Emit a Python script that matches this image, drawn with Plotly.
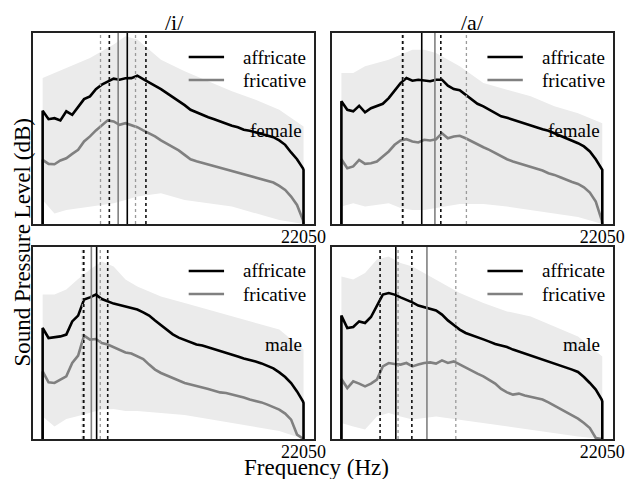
import plotly.graph_objects as go

# ---------------- data ----------------
freq_hz = [0, 0, 500, 1000, 1500, 2000, 2500, 3000, 3500, 4000, 4500, 5000, 5500, 6000,
           6500, 7000, 7500, 8000, 8500, 9000, 9500, 10000, 10500, 11000, 11500, 12000,
           12500, 13000, 13500, 14000, 14500, 15000, 15500, 16000, 16500, 17000, 17500,
           18000, 18500, 19000, 19500, 20000, 20500, 21000, 21500, 22000, 22050, 22050]

i_female_affricate = [0, 56.5, 52.3, 52.8, 51.7, 56.2, 54.5, 58.7, 62.3, 63.7, 67.3, 69.5, 71.2, 72.5,
                      72, 72.7, 72.8, 74, 72.3, 70.7, 69, 67.3, 65.3, 63.3, 61.7, 59.3, 57, 55.7,
                      54.3, 53.3, 52.3, 51.2, 50.3, 49, 48.3, 47, 46.5, 45.7, 44.8, 44, 43.3, 41.7,
                      39.5, 35.7, 32.3, 27.8, 27, 0]
i_female_fricative = [0, 32, 30, 29.8, 31.7, 32.8, 35, 37, 41.2, 43.7, 46.7, 49, 51.7, 51.2, 49.5,
                      50.3, 49.3, 48.3, 46.7, 45.3, 43.7, 41.7, 40, 38.3, 36.7, 34.5, 32.3, 31.3,
                      30.5, 29.5, 28.7, 27.8, 27, 26.2, 25.7, 24.7, 24, 23.2, 22.3, 21.7, 20.7, 19,
                      17, 13.7, 9.5, 2, 0, 0]
a_female_affricate = [0, 61.2, 57, 56.2, 59, 55.7, 57.8, 59, 60, 62.8, 66.7, 70.3, 72.8, 71.5, 72,
                      71.7, 71.2, 72, 72, 69, 67.3, 66.7, 64.5, 62.3, 60, 58.7, 57, 55, 53.7, 53,
                      52, 51, 50, 49, 48.2, 47.3, 46.5, 45.3, 44, 43, 41.7, 40.3, 38.7, 36.2, 32.3,
                      27.8, 27, 0]
a_female_fricative = [0, 32.3, 27.8, 28.7, 32, 30, 30.3, 31.2, 33.7, 36.2, 39.5, 41.7, 42.3, 41.2,
                      40.7, 42, 41.7, 42.3, 45.3, 42.8, 43.7, 44, 42.8, 41.2, 40, 38.3, 37, 35.3,
                      34, 32.3, 31.2, 30.3, 29.3, 28.3, 27.3, 26.7, 25.3, 24.5, 23.3, 22, 21, 20,
                      18.3, 15.7, 11.2, 2, 0, 0]
i_male_affricate = [0, 55.5, 50.5, 51, 51.3, 52.2, 58.8, 61.7, 69.7, 70.8, 72.2, 70, 68.8, 67.7, 67,
                    66.3, 65.3, 64.7, 63.3, 61.7, 59.2, 56.8, 54.7, 52.3, 50.7, 49.5, 48.3, 47.3,
                    46.7, 45.8, 45, 44.3, 43.3, 42.3, 41.3, 40.3, 39.7, 38.8, 37.8, 36.7, 35.3, 33.3,
                    31, 28, 23.8, 18.8, 18, 0]
i_male_fricative = [0, 33.8, 28.3, 28, 29.7, 31.3, 38, 41.7, 51.7, 49.7, 50, 48, 47.2, 45.8, 44.3,
                    43.3, 42.7, 41.3, 40, 37.2, 34.7, 33, 31.7, 30.3, 29.3, 28, 27.2, 26.3, 25.7, 25,
                    24, 23.3, 23, 22.3, 21.3, 20.7, 19.7, 19, 18.3, 17.2, 16, 14.7, 12.7, 9.7, 2.2,
                    0, 0, 0]
a_male_affricate = [0, 61.7, 55.5, 56, 58.8, 58, 61, 66.7, 72.2, 73, 72.2, 70.8, 69.7, 68.3, 66.7,
                    66, 65.3, 64.3, 62.2, 59.3, 57, 54.7, 53, 51.8, 50.7, 49.8, 48.7, 47.5, 46.8, 46,
                    44.7, 43.7, 42.8, 41.7, 40.7, 40, 38.8, 38, 37, 35.8, 34.7, 33.5, 31, 28, 24.7,
                    19.7, 18.8, 0]
a_male_fricative = [0, 30, 25.5, 28.8, 27.7, 26.3, 27.7, 29.7, 36.3, 38, 37.5, 37.2, 38, 36.3, 37.2,
                    38, 38.3, 37.7, 39.3, 38, 38.8, 37.2, 35.5, 34.2, 32.7, 31.3, 29.7, 27.7, 25,
                    23.3, 22.2, 22.7, 21.7, 21, 20.5, 19.7, 18.3, 16.7, 15, 13.3, 11.8, 10.2, 8,
                    5.5, 0.5, 0, 0, 0]

# envelope of the individual (light grey) spectra
band_freq_hz = [0, 1000, 2000, 3000, 4000, 5000, 6000, 7000, 8000, 10000, 12000, 14000, 16000,
                18000, 20000, 22050]
i_female_upper = [72.8, 75.3, 77.8, 80.3, 82.8, 86.2, 89.5, 93.7, 92, 82, 76.2, 71.2, 66.2, 62, 57, 48.7]
i_female_lower = [12, 5.3, 7, 8, 8.7, 9.5, 10.3, 12, 13.7, 15.3, 12, 10.3, 8.7, 5.3, 2, 0]
a_female_upper = [75.3, 75.3, 78.7, 80.5, 82, 84.5, 87, 87, 85.3, 78.7, 70.3, 67, 63.7, 58.7, 55.3, 50.3]
a_female_lower = [8.7, 10.3, 8.7, 9.5, 10.3, 8, 7, 7, 8, 10, 10, 8.7, 7, 5.3, 3.5, 0]
i_male_upper = [72.2, 72.2, 74.7, 80, 84.7, 88.8, 86.3, 79.7, 76.3, 71.2, 68, 64.7, 61.3, 58, 54.7, 44.7]
i_male_lower = [11.3, 6.3, 10, 11.5, 13, 14.7, 15, 14, 14, 13, 12, 10, 8, 6, 4, 0]
a_male_upper = [81.3, 79.7, 83, 89.7, 91.3, 88, 86.3, 83, 79.7, 73, 68, 63.8, 61.3, 56.3, 51.3, 41.3]
a_male_lower = [8, 6.3, 4.7, 11.3, 13, 11.3, 9.7, 10.5, 11.3, 9.7, 8, 6.3, 4.7, 3, 1.3, 0]

# spectral means (solid) and mean +/- sd (dotted), Hz; order: i-female, a-female, i-male, a-male
affricate_mean_hz = [7154, 6791, 4563, 4600]
affricate_low_hz = [5637, 5171, 3480, 3270]
affricate_high_hz = [8729, 8404, 5500, 5955]
fricative_mean_hz = [6383, 7904, 4117, 7230]
fricative_low_hz = [4891, 5241, 3365, 4790]
fricative_high_hz = [7850, 10567, 4870, 9670]

vowel_titles = ["/i/", "/a/"]
speaker_labels = ["female", "female", "male", "male"]
series_names = ["affricate", "fricative"]
x_tick_label = "22050"

# ---------------- figure ----------------
W, H = 637, 479
FONT = "Liberation Serif"
BLACK = "#000000"
GREY = "#808080"
BAND = "#ebebeb"

panels = [
    dict(aff=i_female_affricate, fri=i_female_fricative, up=i_female_upper, lo=i_female_lower),
    dict(aff=a_female_affricate, fri=a_female_fricative, up=a_female_upper, lo=a_female_lower),
    dict(aff=i_male_affricate, fri=i_male_fricative, up=i_male_upper, lo=i_male_lower),
    dict(aff=a_male_affricate, fri=a_male_fricative, up=a_male_upper, lo=a_male_lower),
]

x_domains = [[34 / W, 320 / W], [338 / W, 624 / W], [34 / W, 320 / W], [338 / W, 624 / W]]
y_domains = [[(H - 224) / H, (H - 33) / H], [(H - 224) / H, (H - 33) / H],
             [(H - 439) / H, (H - 247) / H], [(H - 439) / H, (H - 247) / H]]
y_tops = [95.3, 95.3, 96, 96]

fig = go.Figure()
layout = dict(
    width=W, height=H, margin=dict(l=0, r=0, t=0, b=0),
    paper_bgcolor="white", plot_bgcolor="white",
    font=dict(family=FONT, color="black"),
    showlegend=False,
)
shapes = []
annotations = []

for k, p in enumerate(panels):
    sfx = "" if k == 0 else str(k + 1)
    xa, ya = "x" + sfx, "y" + sfx
    # band of individual spectra
    fig.add_trace(go.Scatter(
        x=band_freq_hz + band_freq_hz[::-1], y=p["up"] + p["lo"][::-1],
        fill="toself", fillcolor=BAND, line=dict(width=0), mode="lines",
        hoverinfo="skip", showlegend=False, xaxis=xa, yaxis=ya))
    # fricative mean spectrum
    fig.add_trace(go.Scatter(
        x=freq_hz, y=p["fri"], mode="lines", name=series_names[1],
        line=dict(color=GREY, width=2.6), xaxis=xa, yaxis=ya))
    # affricate mean spectrum
    fig.add_trace(go.Scatter(
        x=freq_hz, y=p["aff"], mode="lines", name=series_names[0],
        line=dict(color=BLACK, width=2.6), xaxis=xa, yaxis=ya))

    # vertical lines: means (solid) and mean +/- sd (dotted)
    for xv, col, dash, w in [
        (fricative_low_hz[k], "#9a9a9a", "dot", 1.3),
        (fricative_high_hz[k], "#9a9a9a", "dot", 1.3),
        (affricate_low_hz[k], "#111111", "dot", 1.6),
        (affricate_high_hz[k], "#111111", "dot", 1.6),
        (fricative_mean_hz[k], GREY, "solid", 1.6),
        (affricate_mean_hz[k], BLACK, "solid", 1.6),
    ]:
        shapes.append(dict(type="line", xref=xa, yref=ya + " domain", x0=xv, x1=xv,
                           y0=0, y1=1, line=dict(color=col, width=w, dash=dash),
                           layer="above"))

    axis_common = dict(showgrid=False, zeroline=False, showline=True, mirror=True,
                       linecolor="#222222", linewidth=1.5)
    layout["xaxis" + sfx] = dict(domain=x_domains[k], range=[-780, 22975], anchor=ya,
                                 tickmode="array", tickvals=[22050], ticktext=[x_tick_label],
                                 ticks="", ticklabelstandoff=-4,
                                 tickfont=dict(size=18, family=FONT), **axis_common)
    layout["yaxis" + sfx] = dict(domain=y_domains[k], range=[0, y_tops[k]], anchor=xa,
                                 showticklabels=False, ticks="", **axis_common)

    # in-panel legend (line sample + label)
    right_px = x_domains[k][1] * W
    top_px = H - y_domains[k][1] * H
    for j, (name, col) in enumerate(zip(series_names, [BLACK, GREY])):
        row_y = (H - (top_px + 24 + 23 * j)) / H
        shapes.append(dict(type="line", xref="paper", yref="paper",
                           x0=(right_px - 128) / W, x1=(right_px - 92) / W,
                           y0=row_y, y1=row_y, line=dict(color=col, width=2.6)))
        annotations.append(dict(text=name, xref="paper", yref="paper",
                                x=(right_px - 75) / W, y=row_y, xanchor="left",
                                yanchor="middle", showarrow=False,
                                font=dict(size=19, family=FONT)))

    annotations.append(dict(text=speaker_labels[k], xref=xa, yref=ya + " domain",
                            x=22050, y=0.49, xanchor="right", yanchor="middle",
                            showarrow=False, font=dict(size=19, family=FONT)))

annotations.append(dict(text=vowel_titles[0], xref="paper", yref="paper", x=178 / W,
                        y=(H - 23) / H, xanchor="center", yanchor="middle", showarrow=False,
                        font=dict(size=22, family=FONT)))
annotations.append(dict(text=vowel_titles[1], xref="paper", yref="paper", x=481 / W,
                        y=(H - 23) / H, xanchor="center", yanchor="middle", showarrow=False,
                        font=dict(size=22, family=FONT)))
annotations.append(dict(text="Sound Pressure Level (dB)", xref="paper", yref="paper",
                        x=23 / W, y=(H - 242) / H, xanchor="center", yanchor="middle",
                        textangle=-90, showarrow=False, font=dict(size=23, family=FONT)))
annotations.append(dict(text="Frequency (Hz)", xref="paper", yref="paper",
                        x=322 / W, y=-2 / H, xanchor="center", yanchor="bottom",
                        borderpad=0, showarrow=False, font=dict(size=23, family=FONT)))

layout["shapes"] = shapes
layout["annotations"] = annotations
fig.update_layout(**layout)
fig.write_html("out.html", config={"displayModeBar": False},
               post_script="document.body.style.margin='0';")
